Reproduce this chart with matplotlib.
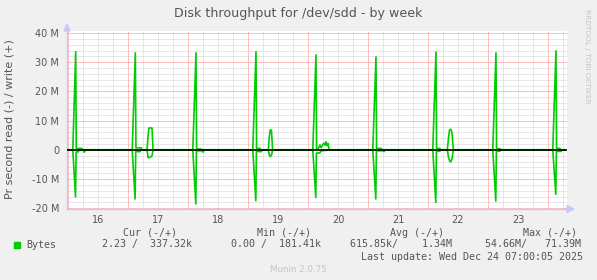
import numpy as np
import matplotlib
matplotlib.use("Agg")
import matplotlib.pyplot as plt
from matplotlib.patches import Polygon, Rectangle

# Colours (munin / rrdtool look)
BG_COLOR = "#F0F0F0"
PLOT_BG = "#FFFFFF"
LINE_COLOR = "#00CC00"
MINOR_GRID = "#D0D0D0"
MAJOR_GRID = "#FF8080"
AXIS_COLOR = "#C8C8F5"
TEXT_COLOR = "#555555"
FAINT_TEXT = "#C4C4C4"

W, H = 597, 280

# Data: time in days of December, value in M bytes/s
write_t = [15.98, 16.08, 16.128, 16.138, 16.23, 16.24,
           17.07, 17.122, 17.132, 17.22, 17.23, 17.317, 17.335, 17.35, 17.40, 17.417,
           18.08, 18.133, 18.143, 18.22, 18.23,
           19.08, 19.133, 19.143, 19.20, 19.21, 19.34, 19.355, 19.37, 19.39, 19.41,
           20.08, 20.133, 20.143, 20.167, 20.20, 20.217, 20.233, 20.25, 20.267, 20.283,
           20.30, 20.317, 20.333, 20.35, 20.36,
           21.08, 21.133, 21.143, 21.22, 21.23,
           22.08, 22.133, 22.143, 22.20, 22.21, 22.322, 22.342, 22.358, 22.378, 22.40, 22.422,
           23.08, 23.133, 23.143, 23.20, 23.21,
           24.08, 24.133, 24.143, 24.20, 24.21, 24.28]
write_v = [0.05, 0.05, 33.6, 0.5, 0.5, 0.05,
           0.05, 33.2, 0.7, 0.7, 0.05, 0.05, 5.0, 7.5, 7.5, 0.05,
           0.05, 33.2, 0.3, 0.3, 0.05,
           0.05, 33.6, 0.5, 0.5, 0.05, 0.05, 4.5, 6.8, 6.8, 0.05,
           0.05, 32.5, 0.2, 0.3, 1.7, 0.8, 1.2, 1.9, 2.3, 1.6,
           2.8, 1.5, 2.2, 0.3, 0.05,
           0.05, 31.8, 0.5, 0.5, 0.05,
           0.05, 33.5, 0.5, 0.5, 0.05, 0.05, 4.0, 6.8, 7.1, 6.0, 0.05,
           0.05, 33.2, 0.4, 0.4, 0.05,
           0.05, 33.9, 0.5, 0.5, 0.05, 0.05]

read_t = [15.98, 16.08, 16.125, 16.135, 16.17, 16.18, 16.26, 16.27, 16.29,
          17.07, 17.118, 17.128, 17.20, 17.21, 17.317, 17.335, 17.38, 17.40, 17.417,
          18.08, 18.13, 18.14, 18.24, 18.25, 18.27,
          19.08, 19.13, 19.14, 19.22, 19.23, 19.34, 19.355, 19.375, 19.395, 19.41,
          20.08, 20.13, 20.14, 20.20, 20.22, 20.36,
          21.08, 21.13, 21.14, 21.25, 21.267, 21.28,
          22.08, 22.13, 22.14, 22.20, 22.21, 22.322, 22.342, 22.365, 22.385, 22.405, 22.422,
          23.08, 23.13, 23.14, 23.20, 23.21,
          24.08, 24.13, 24.14, 24.22, 24.23, 24.28]
read_v = [-0.05, -0.05, -16.1, -0.7, -0.7, -0.1, -0.1, -0.8, -0.1,
          -0.05, -16.8, -0.6, -0.6, -0.05, -0.05, -2.7, -2.4, -2.0, -0.05,
          -0.05, -18.5, -0.3, -0.3, -0.8, -0.05,
          -0.05, -17.4, -0.5, -0.6, -0.05, -0.05, -1.8, -2.3, -1.5, -0.05,
          -0.05, -16.3, -1.1, -1.0, -0.3, -0.05,
          -0.05, -16.8, -0.3, -0.3, -0.6, -0.05,
          -0.05, -18.0, -0.4, -0.4, -0.05, -0.05, -2.5, -4.0, -4.0, -2.5, -0.05,
          -0.05, -17.5, -0.4, -0.4, -0.05,
          -0.05, -15.2, -0.5, -0.5, -0.05, -0.05]

day_labels = ["16", "17", "18", "19", "20", "21", "22", "23"]
y_ticks = [-20, -10, 0, 10, 20, 30, 40]
y_tick_labels = ["-20 M", "-10 M", "0", "10 M", "20 M", "30 M", "40 M"]

legend_headers = ["Cur (-/+)", "Min (-/+)", "Avg (-/+)", "Max (-/+)"]
legend_values = ["2.23 /  337.32k", "0.00 /  181.41k", "615.85k/    1.34M", "54.66M/   71.39M"]
series_name = "Bytes"
last_update = "Last update: Wed Dec 24 07:00:05 2025"

X_MIN, X_MAX = 15.983, 24.317
Y_MIN, Y_MAX = -20.23, 40.69


def fx(px):
    return px / W


def fy(py):
    return 1 - py / H


fig = plt.figure(figsize=(W / 100, H / 100), dpi=100)
fig.patch.set_facecolor(BG_COLOR)
ax = fig.add_axes([fx(67), fy(209), fx(567) - fx(67), fy(31) - fy(209)])
ax.set_facecolor(PLOT_BG)
ax.set_xlim(X_MIN, X_MAX)
ax.set_ylim(Y_MIN, Y_MAX)

# grid: minor every 6h / 2M, major every day / 10M (dotted)
dot = (0, (1, 1))
for x in np.arange(16, 24.5, 0.25):
    if abs(x - round(x)) > 1e-6:
        ax.axvline(x, color=MINOR_GRID, lw=0.72, ls=dot, zorder=1)
for y in np.arange(-20, 41, 2):
    if y % 10 != 0:
        ax.axhline(y, color=MINOR_GRID, lw=0.72, ls=dot, zorder=1)
for x in range(16, 25):
    ax.axvline(x, color=MAJOR_GRID, lw=0.72, ls=dot, zorder=1.5)
for y in y_ticks:
    ax.axhline(y, color=MAJOR_GRID, lw=0.72, ls=dot, zorder=1.5)

ax.plot(write_t, write_v, color=LINE_COLOR, lw=1.2, zorder=3)
ax.plot(read_t, read_v, color=LINE_COLOR, lw=1.2, zorder=3)
ax.axhline(0, color="black", lw=1.2, zorder=4)

# ticks: day labels sit at noon
ax.set_yticks(y_ticks)
ax.set_yticklabels(y_tick_labels)
ax.set_xticks([int(d) + 0.5 for d in day_labels])
ax.set_xticklabels(day_labels)
ax.tick_params(axis="both", length=0, labelsize=7, labelcolor=TEXT_COLOR)
ax.tick_params(axis="y", pad=5.5)
ax.tick_params(axis="x", pad=4.5)

for side in ("top", "right"):
    ax.spines[side].set_visible(False)
for side in ("left", "bottom"):
    ax.spines[side].set_color(AXIS_COLOR)
    ax.spines[side].set_linewidth(1.0)

# axis arrows
fig.patches.append(Polygon([(fx(64), fy(31)), (fx(70), fy(31)), (fx(67), fy(24))],
                           closed=True, color=AXIS_COLOR, transform=fig.transFigure))
fig.patches.append(Polygon([(fx(567), fy(205.5)), (fx(567), fy(212.5)), (fx(574), fy(209))],
                           closed=True, color=AXIS_COLOR, transform=fig.transFigure))

# texts
fig.text(fx(298.5), fy(13), "Disk throughput for /dev/sdd - by week",
         ha="center", va="center", fontsize=9.1, color=TEXT_COLOR)
fig.text(fx(10), fy(119), "Pr second read (-) / write (+)", rotation=90,
         ha="center", va="center", fontsize=8, color=TEXT_COLOR)
fig.text(fx(587), fy(56), "RRDTOOL / TOBI OETIKER", rotation=270,
         ha="center", va="center", fontsize=5.3, color=FAINT_TEXT)

mono = dict(family="DejaVu Sans Mono", fontsize=7.2, color=TEXT_COLOR, va="center")
for label, x0 in zip(legend_headers, [123, 257, 390, 523]):
    fig.text(fx(x0), fy(232.5), label, ha="left", **mono)
fig.patches.append(Rectangle((fx(14), fy(248)), fx(6), fy(242) - fy(248),
                             color=LINE_COLOR, transform=fig.transFigure))
fig.text(fx(26), fy(244.5), series_name, ha="left", **mono)
for val, x0 in zip(legend_values, [101.5, 231, 350, 485]):
    fig.text(fx(x0), fy(244.5), val, ha="left", **mono)
fig.text(fx(583), fy(256.7), last_update, ha="right", **mono)
fig.text(fx(298.5), fy(269), "Munin 2.0.75", ha="center", va="center",
         fontsize=6.3, color=FAINT_TEXT)

fig.savefig("out.png", dpi=100, facecolor=BG_COLOR)
